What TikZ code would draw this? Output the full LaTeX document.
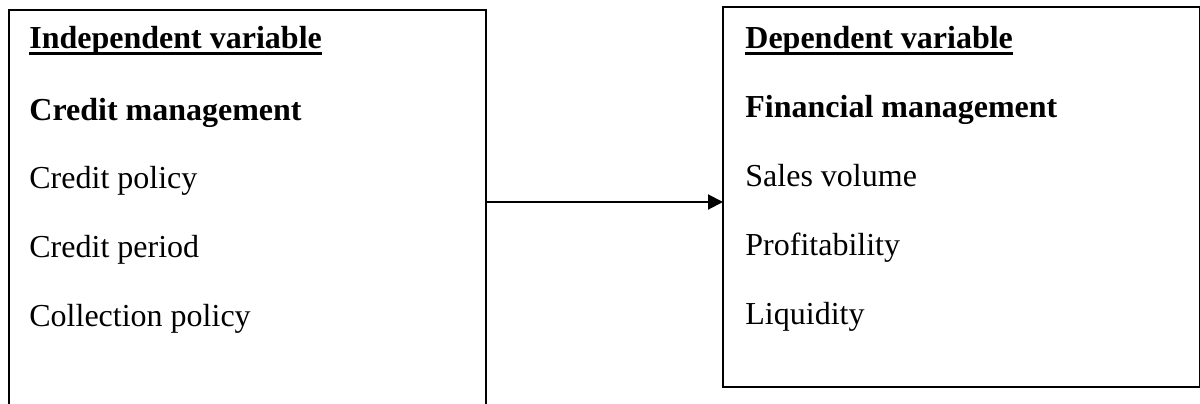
\documentclass[tikz,border=0pt]{standalone}
\usepackage{fontspec}
\setmainfont{Liberation Serif}
\usetikzlibrary{arrows.meta}
\tikzset{box/.style={draw,line width=1pt,inner sep=0pt,outer sep=0pt,anchor=north west},
         txt/.style={anchor=base west,inner sep=0pt,font=\fontsize{16pt}{19pt}\selectfont},
         head/.style={txt,font=\fontsize{16pt}{19pt}\selectfont\bfseries}}
\begin{document}
\begin{tikzpicture}[x=0.5pt,y=-0.5pt]
                \useasboundingbox (0,0) rectangle (1200,403);
                \clip (0,0) rectangle (1200,403);
                \node[box,minimum width=238.5pt,minimum height=210pt] (IV) at (9,10) {};
                \node[box,minimum width=238.25pt,minimum height=190pt] (DV) at (723,7) {};
                \node[head] (IH) at (29,48) {Independent variable};
                \node[head] (IM) at (29,120) {Credit management};
                \node[txt] (I1) at (29,188) {Credit policy};
                \node[txt] (I2) at (29,257) {Credit period};
                \node[txt] (I3) at (29,326) {Collection policy};
                \node[head] (DH) at (745,48) {Dependent variable};
                \node[head] (DM) at (745,117) {Financial management};
                \node[txt] (D1) at (745,186) {Sales volume};
                \node[txt] (D2) at (745,255) {Profitability};
                \node[txt] (D3) at (745,324) {Liquidity};
                \draw[line width=1.4pt] ([yshift=-2.75pt]IH.base west) -- ([yshift=-2.75pt]IH.base east);
                \draw[line width=1.4pt] ([yshift=-2.75pt]DH.base west) -- ([yshift=-2.75pt]DH.base east);
                \coordinate (A) at (600,202);
                \draw[line width=1pt,-{Triangle[length=7.5pt,width=7.5pt]}] (IV.east |- A) -- (DV.west |- A);
\end{tikzpicture}
\end{document}
